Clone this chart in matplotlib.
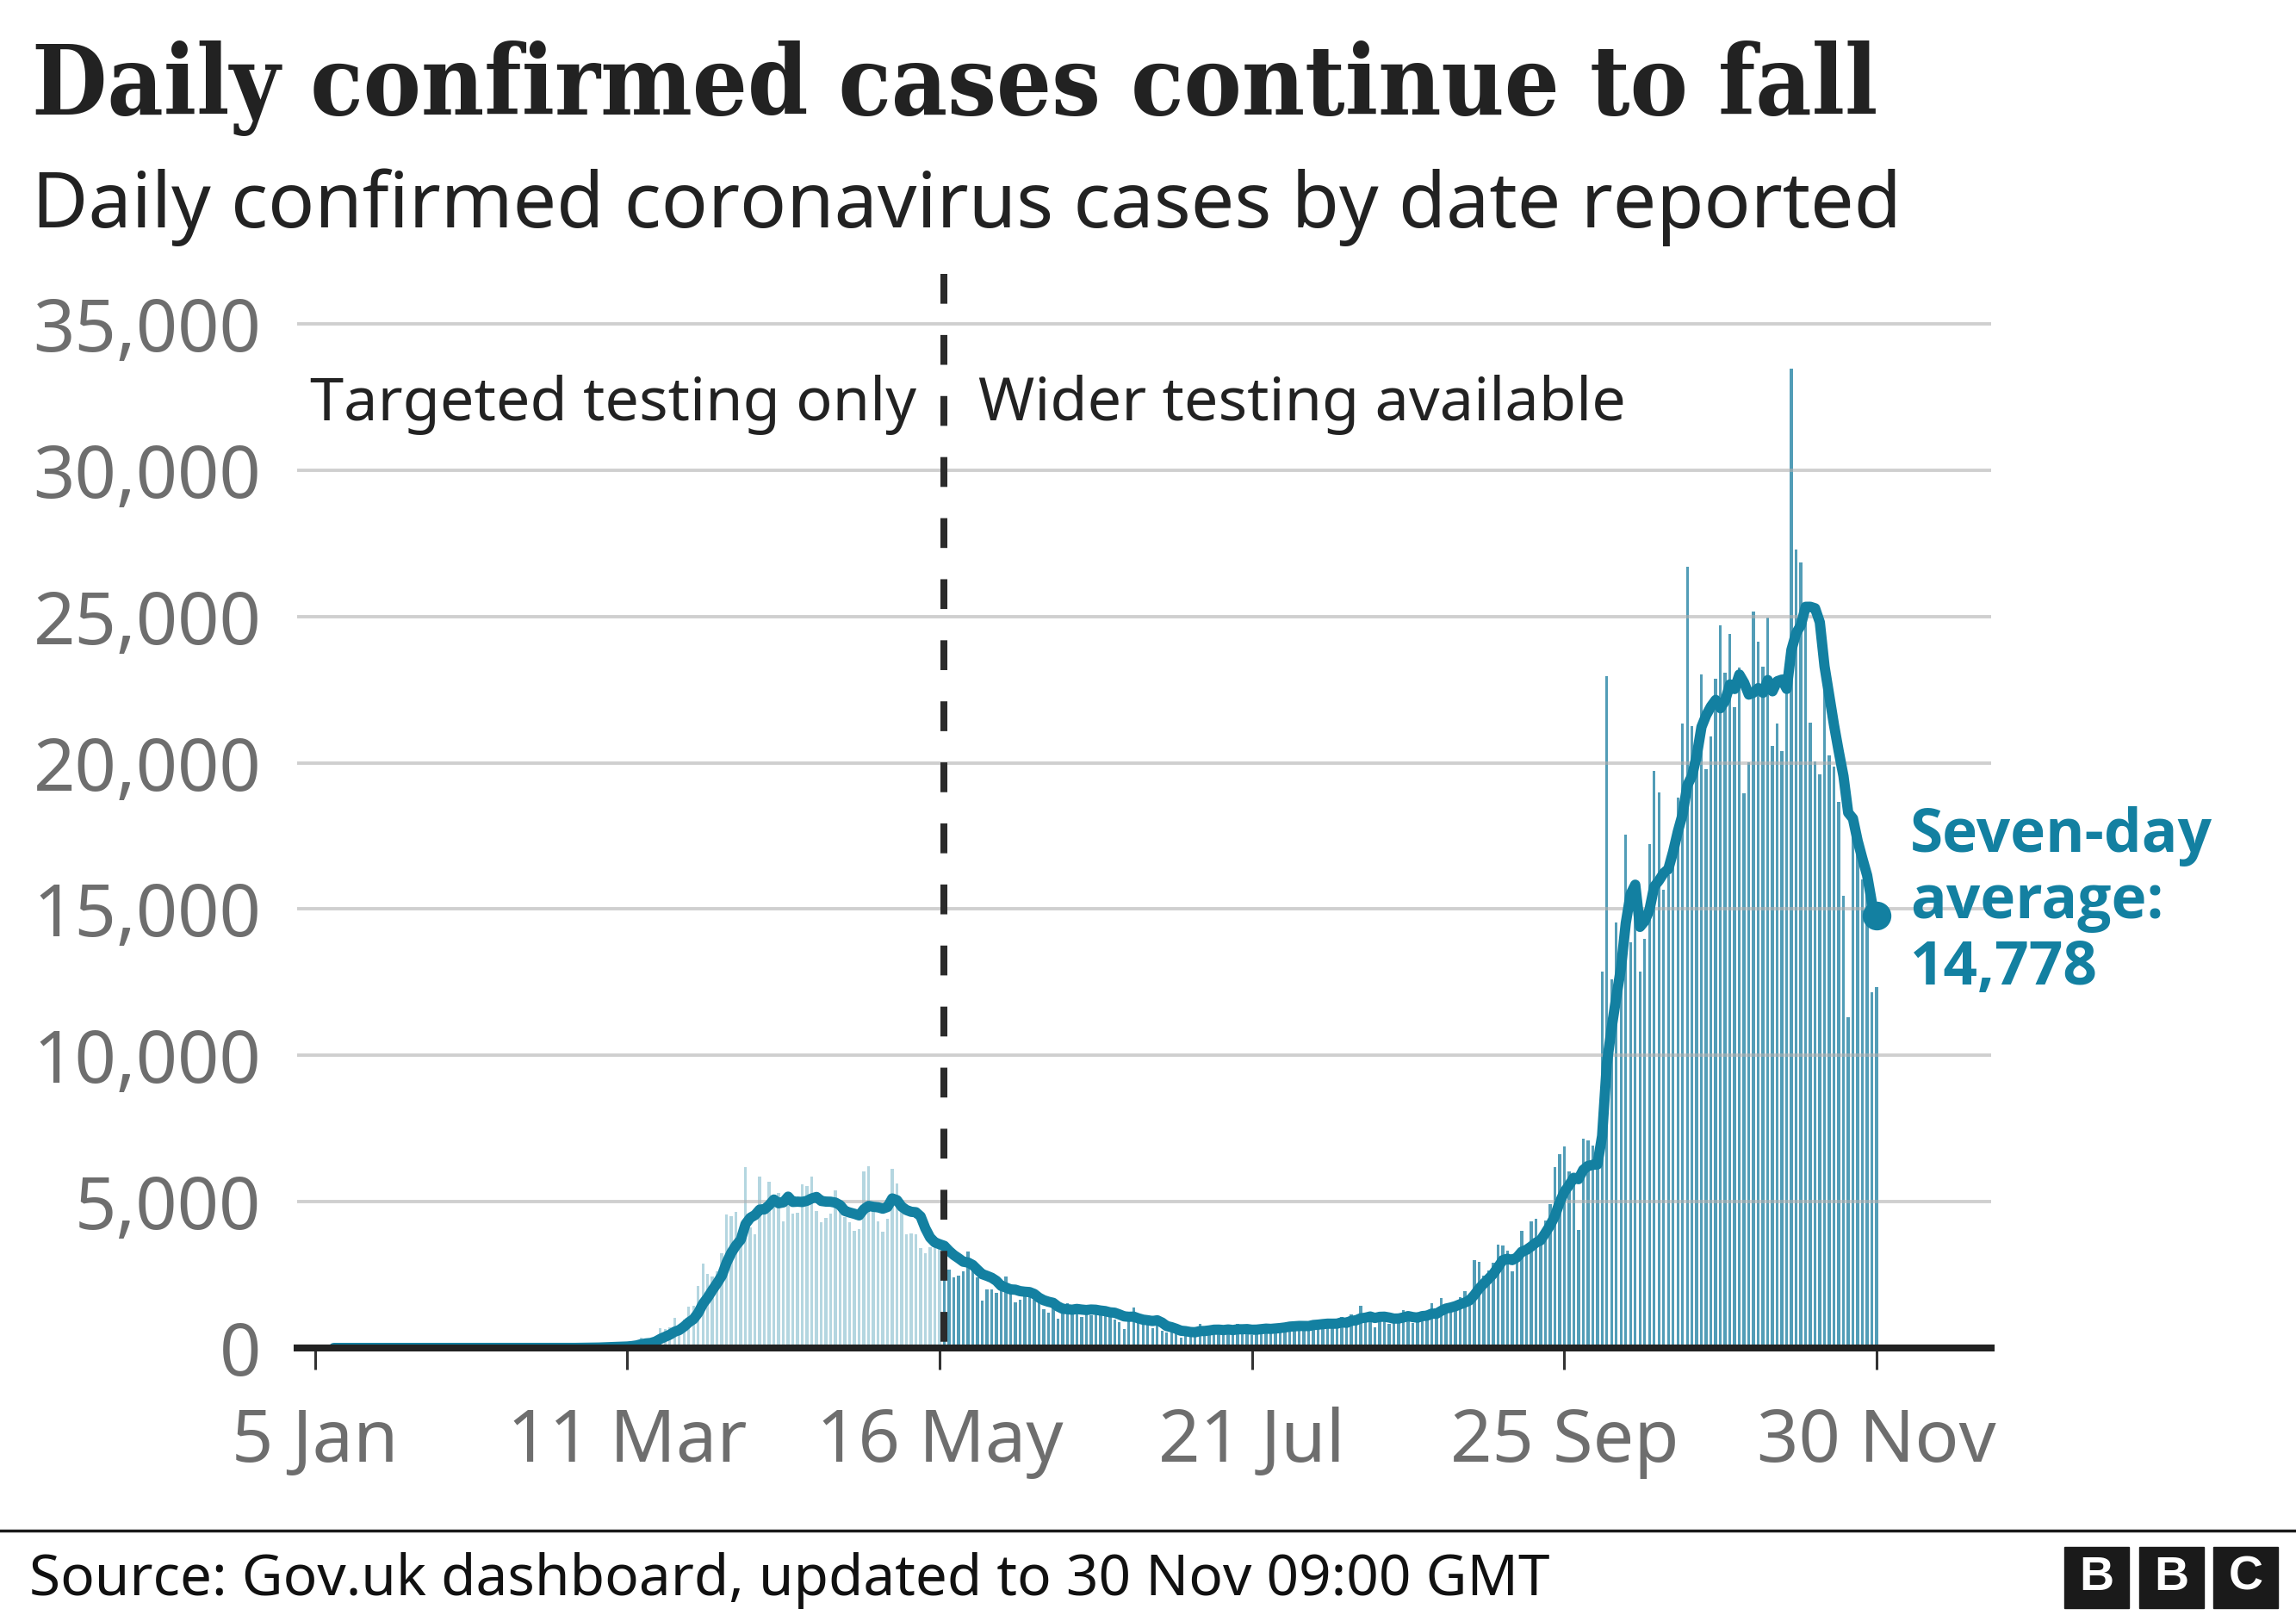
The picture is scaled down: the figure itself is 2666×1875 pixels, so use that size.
import pandas as pd
import matplotlib
matplotlib.use("Agg")
import matplotlib.pyplot as plt
import matplotlib.dates as mdates
from matplotlib.patches import Rectangle

W, H = 2666, 1875

# daily confirmed cases by date reported, 3 Jan - 30 Nov 2020
jan = [0, 0, 0, 0, 0, 0, 0, 0, 0, 0, 0, 0, 0, 0, 0, 0, 0, 0, 0, 0,
       0, 0, 0, 0, 0, 0, 0, 0, 2]
feb = [0, 0, 0, 0, 0, 1, 0, 0, 0, 4, 1, 0, 0, 0, 0, 0, 0, 0, 0, 0,
       0, 0, 0, 4, 0, 1, 2, 5, 3]
mar = [13, 4, 11, 34, 29, 48, 45, 69, 43, 67, 48, 134, 208, 342, 251, 152,
       407, 676, 643, 714, 1035, 665, 967, 1427, 1452, 2129, 2885, 2546,
       2450, 2620, 3230]
apr = [4560, 4500, 4650, 3900, 6185, 4120, 3890, 5860, 4550, 5680, 5230,
       5290, 4340, 5250, 4600, 4620, 5600, 5525, 5850, 4676, 4301, 4451,
       4583, 5386, 4913, 4463, 4310, 3996, 4076, 6032]
may = [6201, 4700, 4339, 3985, 4406, 6111, 5614, 4649, 3896, 3923, 3877,
       3403, 3242, 3446, 3480, 3450, 3534, 2684, 2412, 2472, 2615, 3287,
       2850, 2409, 1625, 2004, 2013, 1887, 2095, 2445, 1936]
jun = [1570, 1653, 1871, 1805, 1650, 1557, 1326, 1205, 1387, 1003, 1266,
       1541, 1425, 1514, 1056, 1279, 1115, 1218, 1346, 1295, 1221, 958,
       874, 653, 1118, 1380, 890, 901, 815, 689]
jul = [829, 576, 544, 624, 516, 352, 581, 630, 512, 820, 650, 650, 530,
       598, 538, 642, 687, 827, 650, 580, 445, 560, 769, 798, 767, 747,
       685, 581, 763, 846, 880]
aug = [743, 744, 938, 670, 892, 950, 871, 758, 1062, 816, 1148, 1009,
       1441, 1012, 1040, 713, 1089, 1182, 812, 1182, 1033, 1288, 1041, 853,
       1048, 1184, 1276, 1522, 1276, 1715, 1406]
sep = [1295, 1508, 1735, 1940, 1813, 2988, 2948, 2460, 2659, 2919, 3539,
       3497, 3330, 2621, 3105, 3991, 3395, 4322, 4422, 3899, 4368, 4926,
       6178, 6634, 6874, 6042, 5693, 4044, 7143, 7108]
oct_ = [6914, 6968, 12872, 22961, 12594, 14542, 14162, 17540, 13864, 15166,
        12872, 13972, 17234, 19724, 18980, 15650, 16171, 16982, 18804, 21331,
        26688, 21242, 20530, 23012, 19790, 20890, 22885, 24701, 23065, 24405,
        21915]
nov = [23254, 18950, 20018, 25177, 24141, 23287, 24957, 20572, 21350, 20412,
       22950, 33470, 27301, 26860, 24962, 21363, 20051, 19609, 22915, 20252,
       19875, 18662, 15450, 11299, 18213, 17555, 16022, 15871, 12155, 12330]

tick_dates = ["2020-01-05", "2020-03-11", "2020-05-16", "2020-07-21",
              "2020-09-25", "2020-11-30"]
tick_labels = ["5 Jan", "11 Mar", "16 May", "21 Jul", "25 Sep", "30 Nov"]
y_ticks = [0, 5000, 10000, 15000, 20000, 25000, 30000, 35000]
split_date = "2020-05-17"

LIGHT = "#b4d6e0"
DARK = "#529db7"
LINE = "#1380a1"
TEXT = "#222222"
GREY = "#6e6e6e"
SANS = ["Noto Sans", "DejaVu Sans"]
SANS_BOLD = ["Open Sans", "DejaVu Sans"]

dates = pd.date_range("2020-01-03", "2020-11-30", freq="D")
cases = pd.Series(jan + feb + mar + apr + may + jun + jul + aug + sep + oct_ + nov,
                  index=dates)
avg = cases.rolling(7).mean()

fig = plt.figure(figsize=(W / 100, H / 100), dpi=100)
fig.patch.set_facecolor("white")


def px(x, y):
    return x / W, 1 - y / H


ax = fig.add_axes([345 / W, (H - 1565) / H, (2312 - 345) / W, (1565 - 318) / H])
ax.set_facecolor("none")

early = cases.index < split_date
ax.bar(cases.index[early], cases[early], width=0.62, color=LIGHT, zorder=1)
ax.bar(cases.index[~early], cases[~early], width=0.62, color=DARK, zorder=1)

for v in y_ticks[1:]:
    ax.axhline(v, color="#b0b0b0", alpha=0.6, lw=2.8, zorder=1.5)

ax.plot(avg.index, avg.values, color=LINE, lw=8.6, solid_capstyle="round",
        solid_joinstyle="round", zorder=3)
ax.plot([avg.index[-1]], [avg.values[-1]], "o", color=LINE, ms=23, zorder=4)

ax.axhline(0, color="#222222", lw=5.8, zorder=5, clip_on=False)

d0 = pd.Timestamp("2020-01-05")
ax.set_xlim(mdates.date2num(d0 - pd.Timedelta(days=3.75)),
            mdates.date2num(d0 + pd.Timedelta(days=354.2)))
ax.set_ylim(0, 36708)

split = mdates.date2num(pd.Timestamp(split_date))
ax.plot([split, split], [36708, 0], color="#2b2b2b", lw=5.8,
        dashes=(4.3, 4.5), zorder=4, clip_on=False)

ax.set_xticks(pd.to_datetime(tick_dates))
ax.set_xticklabels(tick_labels)
ax.set_yticks(y_ticks)
ax.set_yticklabels([f"{v:,}" for v in y_ticks])
ax.tick_params(axis="x", direction="out", length=18, width=2.2, color="#333333",
               pad=31, labelsize=61, labelcolor=GREY)
ax.tick_params(axis="y", length=0, pad=30, labelsize=61, labelcolor=GREY)
for lab in ax.get_xticklabels() + ax.get_yticklabels():
    lab.set_fontfamily(SANS)
for s in ax.spines.values():
    s.set_visible(False)

title = fig.text(*px(37, 133), "Daily confirmed cases continue to fall",
                 family=["DejaVu Serif"], weight="bold", stretch="condensed",
                 fontsize=80, color=TEXT, va="baseline")
subtitle = fig.text(*px(37, 264), "Daily confirmed coronavirus cases by date reported",
                    family=SANS, fontsize=64, color=TEXT, va="baseline")
left_note = fig.text(*px(360, 488), "Targeted testing only", family=SANS,
                     fontsize=49, color=TEXT, va="baseline")
right_note = fig.text(*px(1136, 488), "Wider testing available", family=SANS,
                      fontsize=49, color=TEXT, va="baseline")
avg_lines = []
for txt, yb in zip(["Seven-day", "average:", f"{round(avg.values[-1]):,}"],
                   [989, 1066, 1143]):
    avg_lines.append(fig.text(*px(2218, yb), txt, family=SANS_BOLD, weight="bold",
                              fontsize=52, color=LINE, va="baseline"))
source = fig.text(*px(34, 1852), "Source: Gov.uk dashboard, updated to 30 Nov 09:00 GMT",
                  family=SANS, fontsize=48, color="#111111", va="baseline")

# scale the main texts so their widths match the layout
fig.canvas.draw()
r = fig.canvas.get_renderer()
for t, target in [(title, 2144), (subtitle, 2170), (left_note, 704),
                  (right_note, 751), (source, 1763), (avg_lines[0], 351)]:
    w = t.get_window_extent(renderer=r).width
    t.set_fontsize(t.get_fontsize() * target / w)
for t in avg_lines[1:]:
    t.set_fontsize(avg_lines[0].get_fontsize())

fig.add_artist(plt.Line2D([0, 1], [1 - 1777 / H, 1 - 1777 / H], color="#1a1a1a",
                          lw=2.5, transform=fig.transFigure))

for x0, letter in zip([2397, 2484, 2570], ["B", "B", "C"]):
    fig.add_artist(Rectangle(px(x0, 1867), 75 / W, 71 / H, color="#1a1a1a",
                             transform=fig.transFigure))
    fig.text(*px(x0 + 37.5, 1831.5), letter, family=["Liberation Sans"],
             weight="bold", fontsize=40, color="white", ha="center", va="center")

fig.savefig("out.png", dpi=100, facecolor="white")
